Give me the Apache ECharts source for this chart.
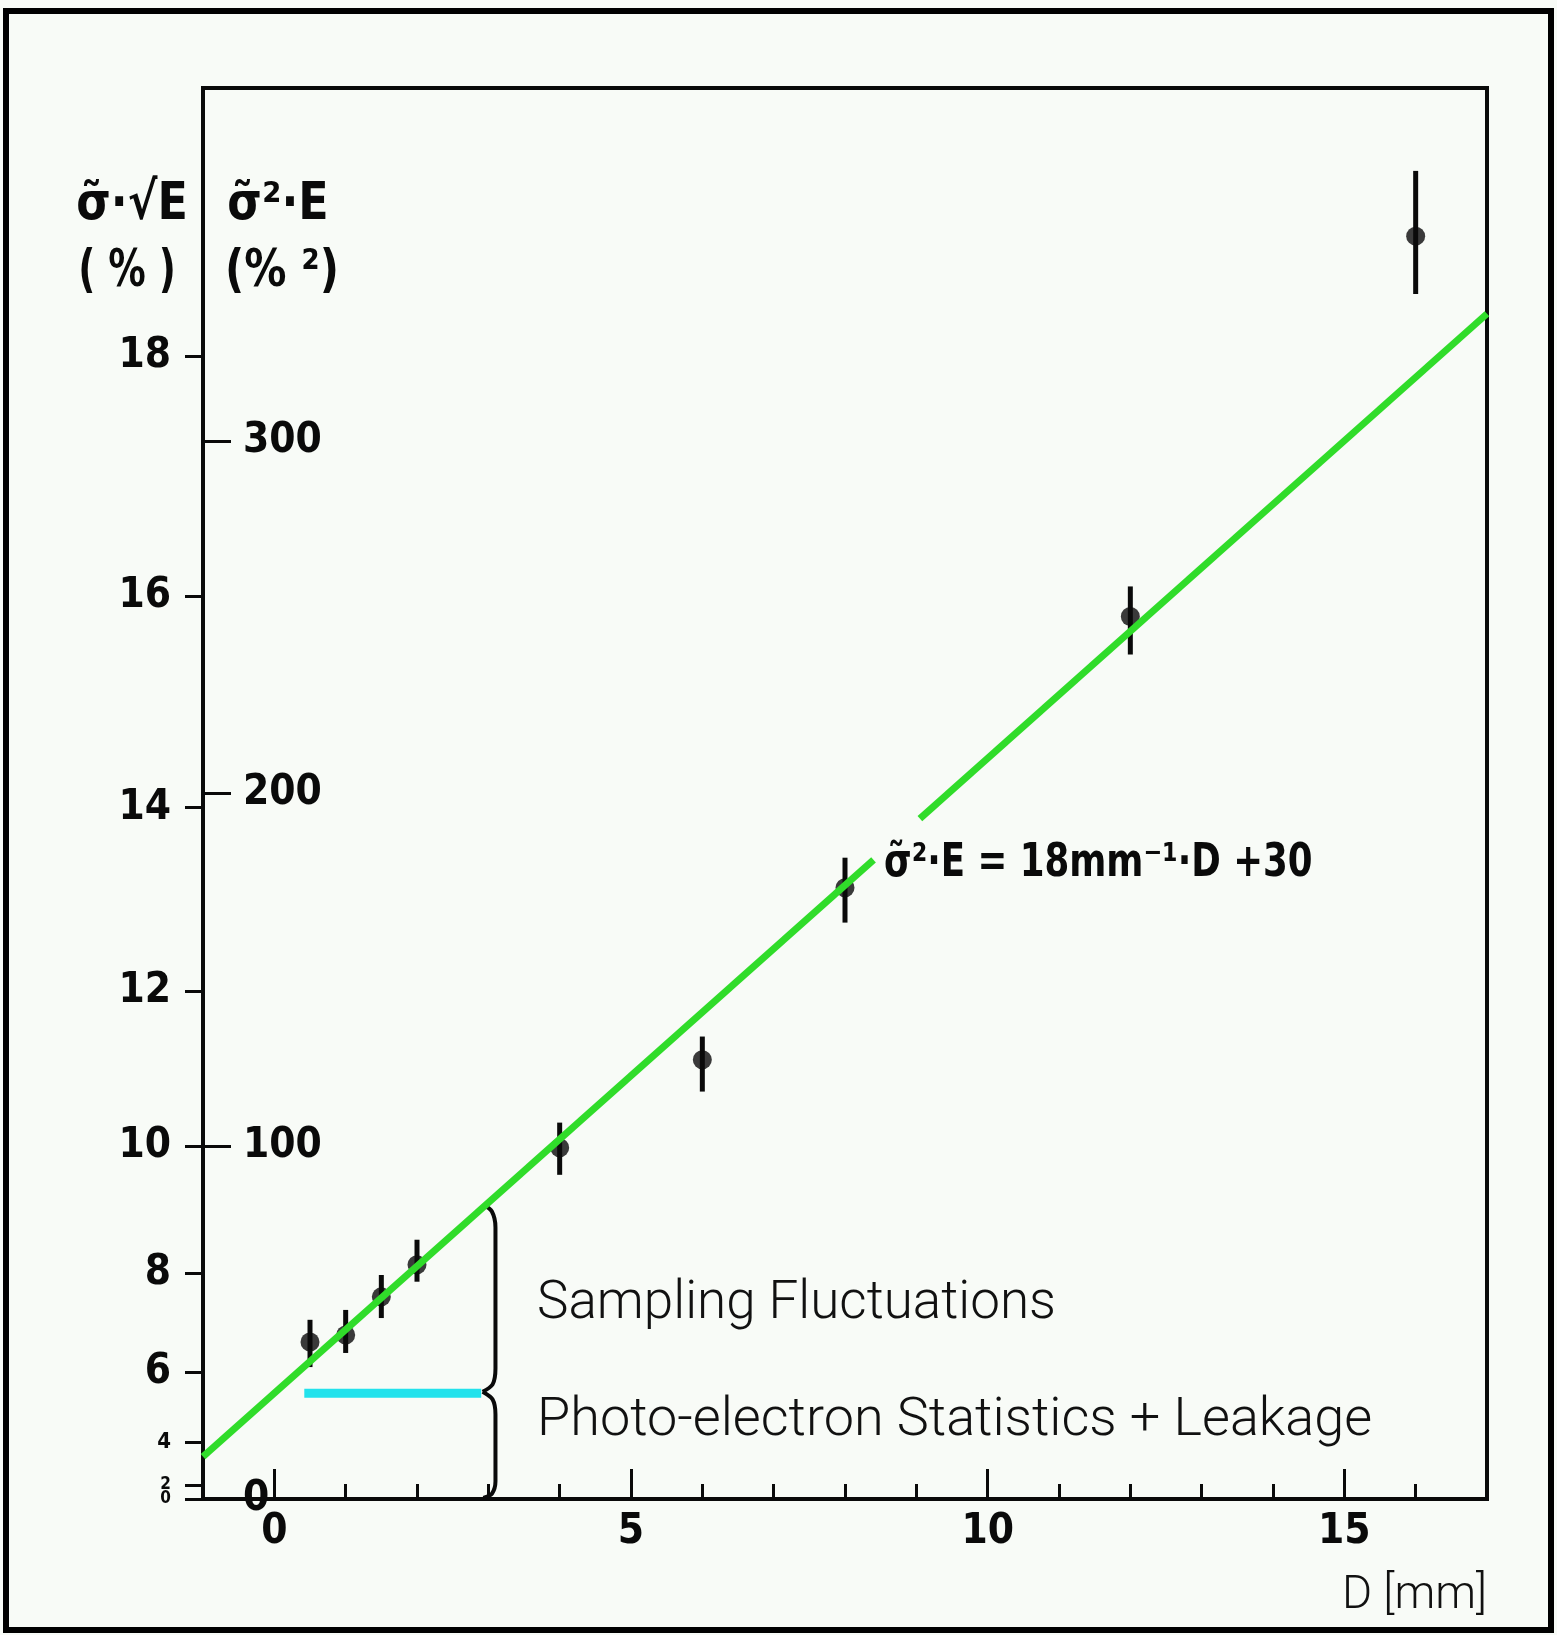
<!DOCTYPE html>
<html>
<head>
<meta charset="utf-8">
<script src="https://cdn.jsdelivr.net/npm/echarts@6/dist/echarts.min.js"></script>
<style>
  html, body { margin: 0; padding: 0; background: #f8fbf7; }
  #chart { width: 1557px; height: 1635px; }
</style>
</head>
<body>
<div id="chart"></div>
<script>
// measured points: D [mm] vs sigma^2*E (%^2), with error bar ends
const dValues = [0.5, 1, 1.5, 2, 4, 6, 8, 12, 16]
const sigma2E = [44.5, 46.5, 57.3, 66.4, 99.6, 124.5, 173.3, 250.2, 358]
const errLow = [37.4, 41.4, 51.3, 61.6, 91.9, 115.5, 163.4, 239.4, 341.6]
const errHigh = [50.8, 53.6, 63.5, 73.5, 106.7, 131.1, 181.8, 258.7, 376.5]

// fit: sigma^2*E = 18 mm^-1 * D + 30, drawn in two pieces around the label
const fitSlope = 18, fitIntercept = 30
const fitPieces = [[-1, 8.4], [9.05, 17]]

// constant term (photo-electron statistics + leakage)
const cyanLine = [[0.42, 30], [2.9, 30]]

// curly braces at D ~ 3
const braceUpper = [[2.93, 83.5], [3.05, 81.5], [3.1, 77], [3.1, 37], [3.06, 32.5], [2.92, 30.4]]
const braceLower = [[2.92, 30.4], [3.06, 28.2], [3.1, 24], [3.1, 5], [3.05, 1.5], [2.93, 0.3]]

// tick labels
const sqrtTicks = [0, 2, 4, 6, 8, 10, 12, 14, 16, 18]   // sigma*sqrt(E) in %
const sqrtCrowded = [2]                                  // label drawn on its own axis (too close to 0)
const sq2Ticks = [0, 100, 200, 300]                       // sigma^2*E in %^2
const xMajorTicks = [0, 5, 10, 15]
const xMinorTicks = [1, 2, 3, 4, 6, 7, 8, 9, 11, 12, 13, 14, 16]

const scanFont = '"DejaVu Sans Condensed", "Liberation Sans Narrow", sans-serif'
const lightFont = 'Roboto, "Liberation Sans", sans-serif'
const ink = '#0a0a0a'

let myChart = echarts.init(document.getElementById('chart'))

const fitSeries = fitPieces.map(p => ({
  type: 'line',
  xAxisIndex: 0,
  yAxisIndex: 1,
  data: p.map(d => [d, fitSlope * d + fitIntercept]),
  symbol: 'none',
  lineStyle: { color: '#30dc2a', width: 7 },
  z: 5,
  silent: true
}))

function scanText(text, x, y, size, sx, align) {
  return {
    type: 'text', x: x, y: y, scaleX: sx, silent: true,
    style: { text: text, font: 'bold ' + size + 'px ' + scanFont, fill: ink, textAlign: align || 'center', textVerticalAlign: 'middle' }
  }
}

function sqrtLabel(v) {
  const r = Math.round(Math.sqrt(v))
  if (r <= 2) return '{t|' + r + '}'
  return r <= 4 ? '{s|' + r + '}' : String(r)
}
const sqrtRich = {
  s: { fontFamily: scanFont, fontWeight: 'bold', fontSize: 22, color: ink },
  t: { fontFamily: scanFont, fontWeight: 'bold', fontSize: 17, lineHeight: 11, color: ink }
}

let option = {
  backgroundColor: '#f8fbf7',
  animation: false,
  grid: {
    left: 203, top: 88, right: 70, bottom: 136,
    show: true, borderColor: ink, borderWidth: 4
  },
  xAxis: [
    {
      type: 'value', min: -1, max: 17,
      splitLine: { show: false },
      axisLine: { onZero: false, lineStyle: { color: ink, width: 4 } },
      axisTick: { customValues: xMajorTicks, inside: true, length: 30, lineStyle: { color: ink, width: 3 } },
      axisLabel: {
        customValues: xMajorTicks, margin: 12,
        fontFamily: scanFont, fontWeight: 'bold', fontSize: 42, color: ink
      }
    },
    {
      type: 'value', min: -1, max: 17, position: 'bottom',
      splitLine: { show: false },
      axisLine: { show: false, onZero: false },
      axisTick: { customValues: xMinorTicks, inside: true, length: 15, lineStyle: { color: ink, width: 3 } },
      axisLabel: { show: false }
    }
  ],
  yAxis: [
    {
      type: 'value', min: 0, max: 400, position: 'left',
      splitLine: { show: false },
      axisLine: { onZero: false, lineStyle: { color: ink, width: 4 } },
      axisTick: { customValues: sqrtTicks.map(v => v * v), length: 18, lineStyle: { color: ink, width: 3 } },
      axisLabel: {
        customValues: sqrtTicks.filter(v => !sqrtCrowded.includes(v)).map(v => v * v), margin: 32,
        showMinLabel: true, hideOverlap: false,
        fontFamily: scanFont, fontWeight: 'bold', fontSize: 42, color: ink,
        formatter: sqrtLabel,
        rich: sqrtRich
      }
    },
    {
      type: 'value', min: 0, max: 400, position: 'left',
      splitLine: { show: false },
      axisLine: { show: false, onZero: false },
      axisTick: { customValues: sq2Ticks, inside: true, length: 28, lineStyle: { color: ink, width: 3 } },
      axisLabel: {
        customValues: sq2Ticks, inside: true, margin: 40,
        fontFamily: scanFont, fontWeight: 'bold', fontSize: 42, color: ink
      }
    },
    {
      type: 'value', min: 0, max: 400, position: 'left',
      splitLine: { show: false },
      axisLine: { show: false, onZero: false },
      axisTick: { show: false },
      axisLabel: {
        customValues: sqrtCrowded.map(v => v * v), margin: 32,
        fontFamily: scanFont, fontWeight: 'bold', fontSize: 17, color: ink,
        formatter: sqrtLabel,
        rich: sqrtRich
      }
    }
  ],
  graphic: [
    {
      type: 'rect', silent: true,
      shape: { x: 6, y: 11, width: 1545, height: 1619 },
      style: { fill: 'none', stroke: '#000', lineWidth: 6 }
    },
    scanText('σ̃·√E', 132, 205, 52, 0.95),
    scanText('( % )', 127, 272, 52, 0.8),
    scanText('σ̃²·E', 278, 205, 52, 0.95),
    scanText('(% ²)', 282, 272, 52, 0.9),
    scanText('σ̃²·E = 18mm⁻¹·D +30', 884, 864, 46, 0.86, 'left'),
    {
      type: 'text', x: 537, y: 1305, silent: true,
      style: { text: 'Sampling Fluctuations', font: '300 53px ' + lightFont, fill: '#111', textAlign: 'left', textVerticalAlign: 'middle' }
    },
    {
      type: 'text', x: 537, y: 1421, silent: true,
      style: { text: 'Photo-electron Statistics + Leakage', font: '300 54px ' + lightFont, fill: '#111', textAlign: 'left', textVerticalAlign: 'middle' }
    },
    {
      type: 'text', x: 1487, y: 1596, silent: true,
      style: { text: 'D [mm]', font: '300 46px ' + lightFont, fill: '#111', textAlign: 'right', textVerticalAlign: 'middle' }
    }
  ],
  series: [
    {
      type: 'custom',
      xAxisIndex: 0, yAxisIndex: 1,
      data: dValues.map((d, i) => [d, errLow[i], errHigh[i]]),
      renderItem: function (params, api) {
        const lo = api.coord([api.value(0), api.value(1)])
        const hi = api.coord([api.value(0), api.value(2)])
        return {
          type: 'line',
          shape: { x1: lo[0], y1: lo[1], x2: hi[0], y2: hi[1] },
          style: { stroke: ink, lineWidth: 5 }
        }
      },
      z: 3,
      silent: true
    },
    {
      type: 'scatter',
      xAxisIndex: 0, yAxisIndex: 1,
      data: dValues.map((d, i) => [d, sigma2E[i]]),
      symbol: 'circle', symbolSize: 19,
      itemStyle: { color: ink },
      z: 4,
      silent: true
    },
    ...fitSeries,
    {
      type: 'line',
      xAxisIndex: 0, yAxisIndex: 1,
      data: cyanLine,
      symbol: 'none',
      lineStyle: { color: '#22e2ec', width: 9 },
      z: 5,
      silent: true
    },
    {
      type: 'line',
      xAxisIndex: 0, yAxisIndex: 1,
      data: braceUpper,
      symbol: 'none', smooth: 0.3,
      lineStyle: { color: ink, width: 4 },
      z: 4,
      silent: true
    },
    {
      type: 'line',
      xAxisIndex: 0, yAxisIndex: 1,
      data: braceLower,
      symbol: 'none', smooth: 0.3,
      lineStyle: { color: ink, width: 4 },
      z: 4,
      silent: true
    }
  ]
}

myChart.setOption(option)
</script>
</body>
</html>
